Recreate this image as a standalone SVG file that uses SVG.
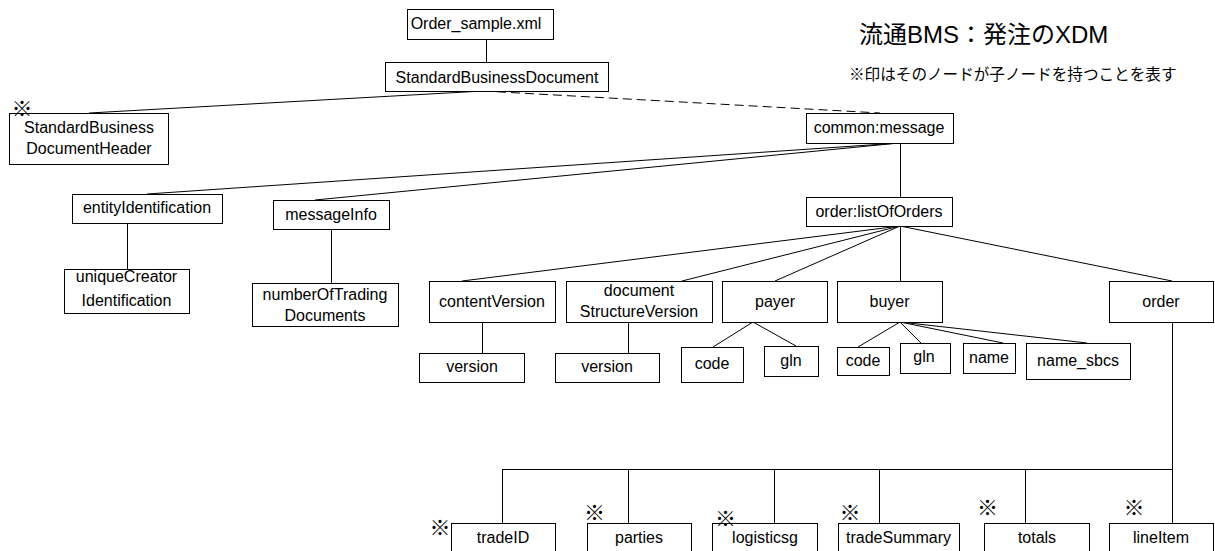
<svg xmlns="http://www.w3.org/2000/svg" width="1215" height="551" viewBox="0 0 1215 551">
  <style>
    .box { fill: #fff; stroke: #000; stroke-width: 1; }
    .lbl { font-family: "Liberation Sans", "Noto Sans CJK JP", sans-serif; font-size: 16px; fill: #000; text-anchor: middle; }
    .mark { font-family: "Noto Sans CJK JP", sans-serif; font-size: 21px; fill: #000; }
    .edge { stroke: #000; stroke-width: 1; fill: none; }
    .dash { stroke-dasharray: 9 5; }
  </style>
  <rect width="1215" height="551" fill="#fff"/>

  <!-- titles -->
  <text x="859" y="43" font-family="Liberation Sans, Noto Sans CJK JP, sans-serif" font-size="24" fill="#000">流通BMS：発注のXDM</text>
  <text x="849" y="80" font-family="Noto Sans CJK JP, sans-serif" font-size="15.6" fill="#000">※印はそのノードが子ノードを持つことを表す</text>

  <!-- connectors -->
  <g id="connectors">
    <line class="edge" x1="486.5" y1="39" x2="486.5" y2="62"/>
    <line class="edge" x1="483" y1="91" x2="89" y2="113"/>
    <line class="edge dash" x1="483" y1="91" x2="880" y2="113"/>
    <line class="edge" x1="899" y1="143" x2="147" y2="194"/>
    <line class="edge" x1="899" y1="143" x2="315" y2="200"/>
    <line class="edge" x1="900.5" y1="143" x2="900.5" y2="197"/>
    <line class="edge" x1="127.5" y1="223" x2="127.5" y2="269"/>
    <line class="edge" x1="331.5" y1="229" x2="331.5" y2="283"/>
    <line class="edge" x1="900" y1="226" x2="462" y2="281"/>
    <line class="edge" x1="900" y1="226" x2="682" y2="281"/>
    <line class="edge" x1="900" y1="226" x2="775" y2="281"/>
    <line class="edge" x1="900.5" y1="226" x2="900.5" y2="281"/>
    <line class="edge" x1="900" y1="226" x2="1172" y2="281"/>
    <line class="edge" x1="482.5" y1="322" x2="482.5" y2="353"/>
    <line class="edge" x1="628.5" y1="322" x2="628.5" y2="353"/>
    <line class="edge" x1="753" y1="322" x2="713" y2="347"/>
    <line class="edge" x1="753" y1="322" x2="796" y2="346"/>
    <line class="edge" x1="900" y1="322" x2="858" y2="347"/>
    <line class="edge" x1="900" y1="322" x2="921" y2="343"/>
    <line class="edge" x1="900" y1="322" x2="1003" y2="343"/>
    <line class="edge" x1="900" y1="322" x2="1087" y2="343"/>
    <line class="edge" x1="1172.5" y1="322" x2="1172.5" y2="523"/>
    <line class="edge" x1="502" y1="469.5" x2="1172.5" y2="469.5"/>
    <line class="edge" x1="502.5" y1="469" x2="502.5" y2="523"/>
    <line class="edge" x1="628.5" y1="469" x2="628.5" y2="523"/>
    <line class="edge" x1="774.5" y1="469" x2="774.5" y2="523"/>
    <line class="edge" x1="879.5" y1="469" x2="879.5" y2="523"/>
    <line class="edge" x1="1025.5" y1="469" x2="1025.5" y2="523"/>
  </g>

  <!-- nodes -->
  <g id="order-sample">
    <rect class="box" x="407.5" y="9.5" width="146" height="30"/>
    <text class="lbl" x="476" y="29">Order_sample.xml</text>
  </g>
  <g id="standard-business-document">
    <rect class="box" x="385.5" y="62.5" width="223" height="29"/>
    <text class="lbl" x="497" y="82.5">StandardBusinessDocument</text>
  </g>
  <g id="sbdh">
    <rect class="box" x="9.5" y="113.5" width="159" height="51"/>
    <text class="mark" x="11.5" y="116">※</text>
    <text class="lbl" x="89" y="133">StandardBusiness</text>
    <text class="lbl" x="89" y="154">DocumentHeader</text>
  </g>
  <g id="common-message">
    <rect class="box" x="806.5" y="113.5" width="147" height="30"/>
    <text class="lbl" x="879" y="133">common:message</text>
  </g>
  <g id="entity-identification">
    <rect class="box" x="72.5" y="194.5" width="150" height="29"/>
    <text class="lbl" x="147" y="213">entityIdentification</text>
  </g>
  <g id="message-info">
    <rect class="box" x="273.5" y="200.5" width="116" height="29"/>
    <text class="lbl" x="331" y="220">messageInfo</text>
  </g>
  <g id="unique-creator">
    <rect class="box" x="64.5" y="269.5" width="125" height="44"/>
    <text class="lbl" x="126.5" y="282">uniqueCreator</text>
    <text class="lbl" x="126.5" y="306">Identification</text>
  </g>
  <g id="number-of-trading">
    <rect class="box" x="252.5" y="283.5" width="146" height="43"/>
    <text class="lbl" x="325" y="300">numberOfTrading</text>
    <text class="lbl" x="325" y="320.5">Documents</text>
  </g>
  <g id="list-of-orders">
    <rect class="box" x="806.5" y="197.5" width="146" height="29"/>
    <text class="lbl" x="879" y="217">order:listOfOrders</text>
  </g>
  <g id="content-version">
    <rect class="box" x="429.5" y="281.5" width="126" height="41"/>
    <text class="lbl" x="492" y="307">contentVersion</text>
  </g>
  <g id="document-structure-version">
    <rect class="box" x="566.5" y="281.5" width="146" height="41"/>
    <text class="lbl" x="639" y="296">document</text>
    <text class="lbl" x="639" y="317">StructureVersion</text>
  </g>
  <g id="payer">
    <rect class="box" x="722.5" y="281.5" width="105" height="41"/>
    <text class="lbl" x="775" y="307">payer</text>
  </g>
  <g id="buyer">
    <rect class="box" x="837.5" y="281.5" width="105" height="41"/>
    <text class="lbl" x="889.5" y="307">buyer</text>
  </g>
  <g id="order">
    <rect class="box" x="1109.5" y="281.5" width="104" height="41"/>
    <text class="lbl" x="1161" y="307">order</text>
  </g>
  <g id="content-version-version">
    <rect class="box" x="419.5" y="353.5" width="105" height="29"/>
    <text class="lbl" x="472" y="372">version</text>
  </g>
  <g id="structure-version-version">
    <rect class="box" x="555.5" y="353.5" width="104" height="29"/>
    <text class="lbl" x="607" y="372">version</text>
  </g>
  <g id="payer-code">
    <rect class="box" x="681.5" y="347.5" width="62" height="35"/>
    <text class="lbl" x="712" y="369">code</text>
  </g>
  <g id="payer-gln">
    <rect class="box" x="764.5" y="346.5" width="54" height="30"/>
    <text class="lbl" x="791" y="365.5">gln</text>
  </g>
  <g id="buyer-code">
    <rect class="box" x="837.5" y="347.5" width="52" height="28"/>
    <text class="lbl" x="863" y="366">code</text>
  </g>
  <g id="buyer-gln">
    <rect class="box" x="900.5" y="343.5" width="50" height="30"/>
    <text class="lbl" x="924" y="362">gln</text>
  </g>
  <g id="buyer-name">
    <rect class="box" x="963.5" y="343.5" width="52" height="30"/>
    <text class="lbl" x="989" y="362.5">name</text>
  </g>
  <g id="buyer-name-sbcs">
    <rect class="box" x="1026.5" y="343.5" width="104" height="36"/>
    <text class="lbl" x="1078" y="366">name_sbcs</text>
  </g>
  <g id="trade-id">
    <rect class="box" x="451.5" y="523.5" width="104" height="40"/>
    <text class="mark" x="429.5" y="535">※</text>
    <text class="lbl" x="503" y="543">tradeID</text>
  </g>
  <g id="parties">
    <rect class="box" x="587.5" y="523.5" width="104" height="40"/>
    <text class="mark" x="584" y="520">※</text>
    <text class="lbl" x="639" y="543">parties</text>
  </g>
  <g id="logisticsg">
    <rect class="box" x="712.5" y="523.5" width="105" height="40"/>
    <text class="mark" x="715" y="525.5">※</text>
    <text class="lbl" x="765" y="543">logisticsg</text>
  </g>
  <g id="trade-summary">
    <rect class="box" x="838.5" y="523.5" width="121" height="40"/>
    <text class="mark" x="839.5" y="520">※</text>
    <text class="lbl" x="898.5" y="543">tradeSummary</text>
  </g>
  <g id="totals">
    <rect class="box" x="984.5" y="523.5" width="105" height="40"/>
    <text class="mark" x="977" y="514.5">※</text>
    <text class="lbl" x="1037" y="543">totals</text>
  </g>
  <g id="line-item">
    <rect class="box" x="1109.5" y="523.5" width="104" height="40"/>
    <text class="mark" x="1123.5" y="514.5">※</text>
    <text class="lbl" x="1161" y="543">lineItem</text>
  </g>
</svg>
